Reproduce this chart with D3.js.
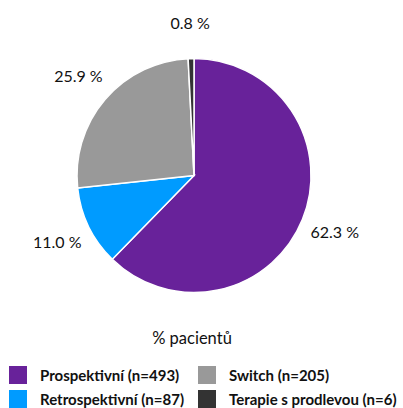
<!DOCTYPE html>
<html><head><meta charset="utf-8">
<script src="https://cdn.jsdelivr.net/npm/d3@7"></script>
<style>body{margin:0;background:#fff}svg{display:block}</style>
</head><body>
<svg id="c" width="403" height="408"></svg>
<script>
const categories = ["Prospektivní (n=493)", "Retrospektivní (n=87)", "Switch (n=205)", "Terapie s prodlevou (n=6)"];
const values = [62.3, 11.0, 25.9, 0.8];
const labels = ["62.3 %", "11.0 %", "25.9 %", "0.8 %"];
const colors = ["#68229A", "#009BFF", "#999999", "#333333"];
const title = "% pacientů";

const svg = d3.select("#c");
const cx = 194, cy = 175.5, R = 117;
const font = "Lato, 'Open Sans', sans-serif";
const pie = d3.pie().sort(null).value(d => d)(values);
const arc = d3.arc().innerRadius(0).outerRadius(R);
const lab = d3.arc().innerRadius(152).outerRadius(152);
const g = svg.append("g").attr("transform", `translate(${cx},${cy})`);
g.selectAll("path").data(pie).join("path")
  .attr("d", arc).attr("fill", (d,i) => colors[i])
  .attr("stroke", "#fff").attr("stroke-width", 1.5);
g.selectAll("text").data(pie).join("text")
  .attr("transform", d => `translate(${lab.centroid(d)})`)
  .attr("text-anchor", "middle").attr("dy", "0.35em")
  .attr("font-family", font).attr("font-size", 16).attr("fill", "#111")
  .text((d,i) => labels[i]);

svg.append("text").attr("x", 192).attr("y", 344).attr("text-anchor", "middle")
  .attr("font-family", font).attr("font-size", 16.5).attr("fill", "#111").text(title);

const leg = [[9, 366], [9, 390], [198, 366], [198, 390]];
const lg = svg.append("g");
categories.forEach((c, i) => {
  const [x, y] = leg[i];
  lg.append("rect").attr("x", x).attr("y", y).attr("width", 18).attr("height", 18).attr("fill", colors[i]);
  lg.append("text").attr("x", x + 31).attr("y", y + 15)
    .attr("font-family", font).attr("font-weight", "bold").attr("font-size", 15).attr("fill", "#111").text(c);
});
</script>
</body></html>
